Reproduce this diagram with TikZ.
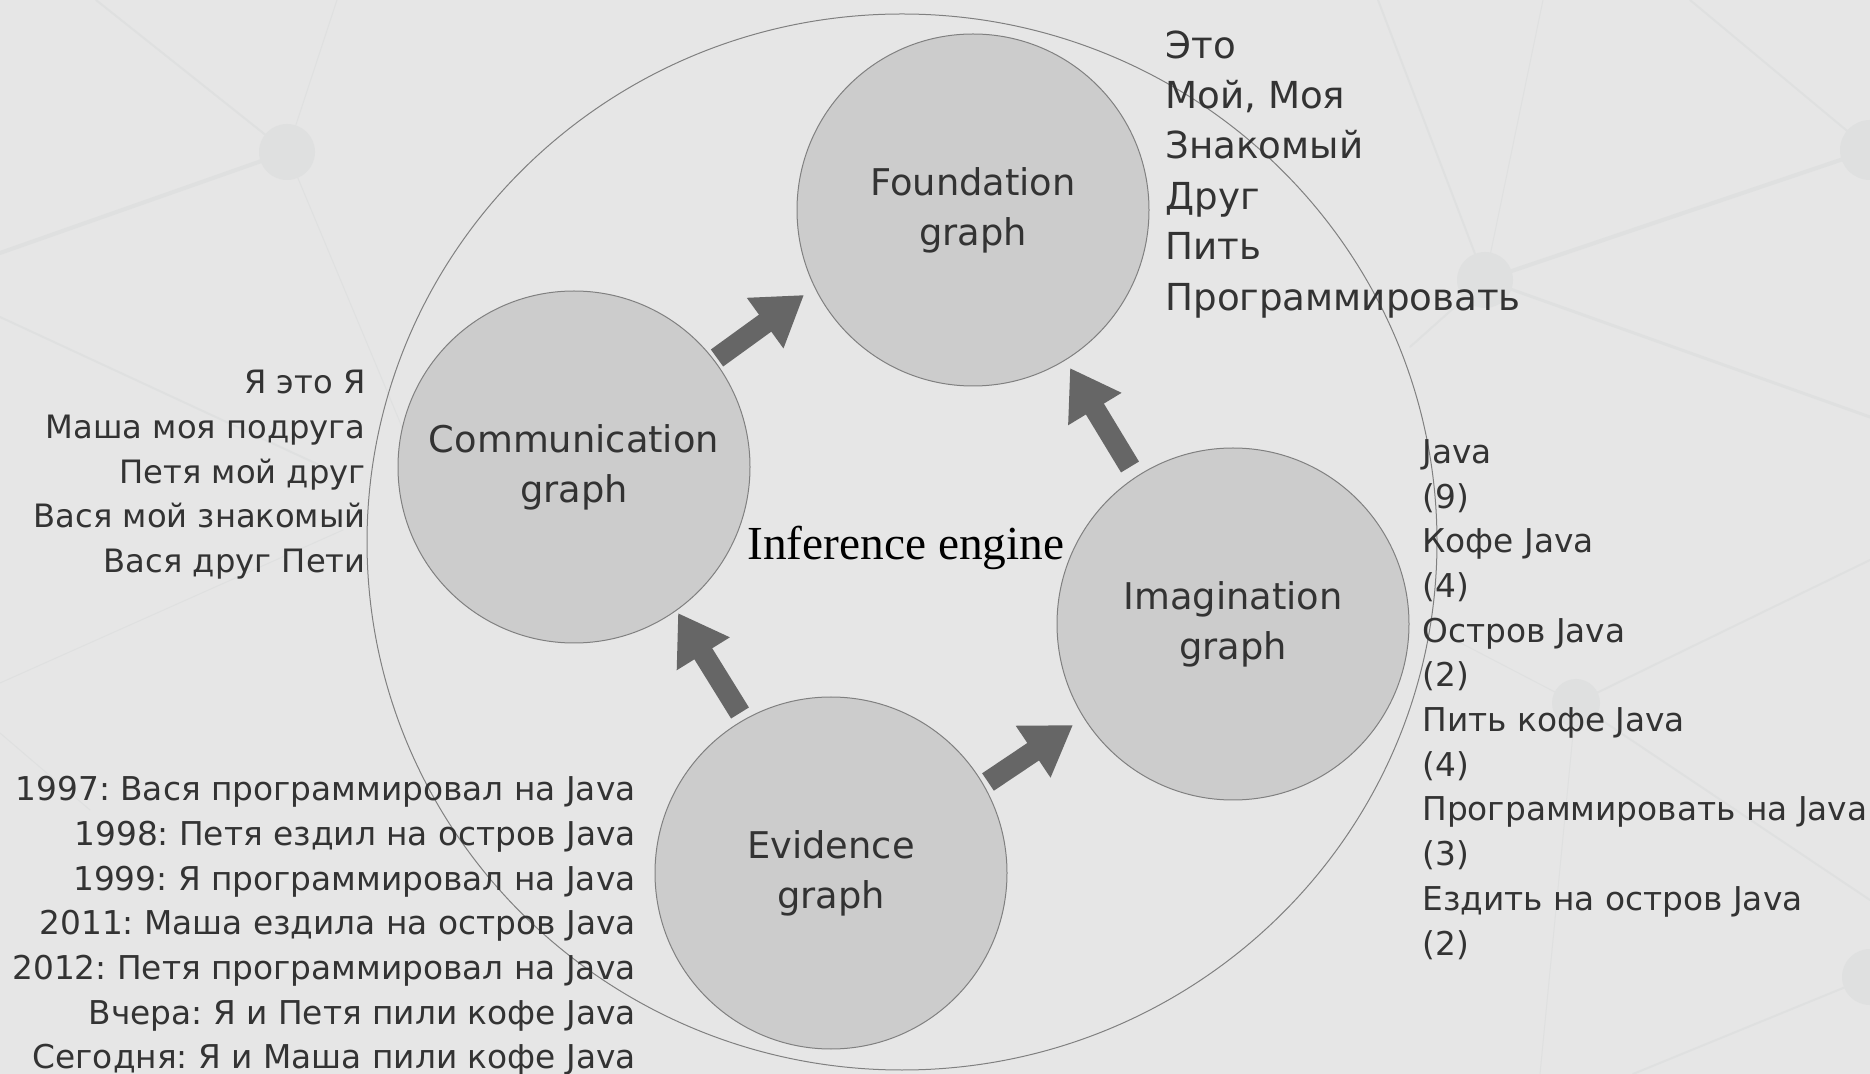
\documentclass[tikz,border=0pt]{standalone}
\usepackage{fontspec}
\setmainfont{DejaVu Sans}
\newfontfamily\enginefont{Liberation Serif}
\usetikzlibrary{arrows.meta,positioning}
\frenchspacing

\definecolor{bggray}{RGB}{230,230,230}
\definecolor{netgray}{RGB}{223,224,224}
\definecolor{discgray}{RGB}{204,204,204}
\definecolor{rimgray}{RGB}{128,128,128}
\definecolor{arrowgray}{RGB}{102,102,102}
\definecolor{inkgray}{RGB}{51,51,51}

\begin{document}
\begin{tikzpicture}[x=0.5pt,y=-0.5pt,
  graphdisc/.style={circle,draw=rimgray,line width=0.5pt,fill=discgray,
    minimum size=176pt,inner sep=0pt,align=center,text=inkgray,
    font=\fontsize{18.4}{25}\selectfont},
  facts/.style={inner sep=0pt,text=inkgray,font=\fontsize{16.4}{22.35}\selectfont},
  flow/.style={draw=arrowgray,line width=10.5pt,-{Triangle[width=29.5pt,length=24pt]}},
  net/.style={draw=netgray,line cap=round},
  hub/.style={fill=netgray}]
  % background with the faint network
  \fill[bggray] (0,0) rectangle (1870,1074);
  \useasboundingbox (0,0) rectangle (1870,1074);
  \draw[net,line width=2pt] (287,152) -- (0,253);
  \draw[net,line width=1pt] (287,152) -- (96,0);
  \draw[net,line width=0.5pt] (287,152) -- (337,0);
  \draw[net,line width=0.5pt] (287,152) -- (420,470);
  \draw[net,line width=1pt] (0,317) -- (330,470);
  \draw[net,line width=0.5pt] (0,683) -- (343,530);
  \draw[net,line width=0.5pt] (0,733) -- (90,810);
  \fill[hub] (287,152) circle[radius=28];
  \draw[net,line width=1pt] (1485,280) -- (1378,0);
  \draw[net,line width=0.5pt] (1485,280) -- (1543,0);
  \draw[net,line width=2pt] (1485,280) -- (1870,150);
  \draw[net,line width=1.5pt] (1485,280) -- (1870,417);
  \draw[net,line width=1pt] (1485,280) -- (1410,347);
  \draw[net,line width=1pt] (1870,150) -- (1690,0);
  \fill[hub] (1485,280) circle[radius=28];
  \fill[hub] (1870,150) circle[radius=30];
  \draw[net,line width=1pt] (1576,703) -- (1870,560);
  \draw[net,line width=0.5pt] (1576,703) -- (1455,640);
  \draw[net,line width=1pt] (1576,703) -- (1870,900);
  \draw[net,line width=0.5pt] (1576,703) -- (1540,1074);
  \draw[net,line width=1pt] (1870,977) -- (1633,1074);
  \fill[hub] (1576,703) circle[radius=24];
  \fill[hub] (1870,977) circle[radius=28];

  % inference engine
  \draw[rimgray,line width=0.5pt] (902,542) ellipse[x radius=535,y radius=528];
  \node[anchor=base,inner sep=0pt,font=\enginefont\fontsize{23.7}{28}\selectfont]
    (engine) at (906,560) {Inference engine};

  % the four graphs
  \node[graphdisc] (foundation) at (973,210) {Foundation\\graph};
  \node[graphdisc] (communication) at (574,467) {Communication\\graph};
  \node[graphdisc] (imagination) at (1233,624) {Imagination\\graph};
  \node[graphdisc] (evidence) at (831,873) {Evidence\\graph};

  % arrows between the graphs
  \coordinate (c2f-tail) at (717,358);  \coordinate (c2f-tip) at (804,295);
  \coordinate (i2f-tail) at (1130,467); \coordinate (i2f-tip) at (1070,368);
  \coordinate (e2c-tail) at (740,713);  \coordinate (e2c-tip) at (678,613);
  \coordinate (e2i-tail) at (988,782);  \coordinate (e2i-tip) at (1073,725);
  \draw[flow] (c2f-tail) -- (c2f-tip);
  \draw[flow] (i2f-tail) -- (i2f-tip);
  \draw[flow] (e2c-tail) -- (e2c-tip);
  \draw[flow] (e2i-tail) -- (e2i-tip);

  % contents of each graph
  \node[facts,anchor=north west,align=left,font=\fontsize{18.6}{25.2}\selectfont]
    (foundation-list) at (1165,30)
    {Это\\Мой, Моя\\Знакомый\\Друг\\Пить\\Программировать};
  \node[facts,anchor=north east,align=right,font=\fontsize{16.1}{22.35}\selectfont]
    (communication-list) at (366,370)
    {Я это Я\\Маша моя подруга\\Петя мой друг\\Вася мой знакомый\\Вася друг Пети};
  \node[facts,anchor=north west,align=left] (imagination-list) at (1422,439)
    {Java\\(9)\\Кофе Java\\(4)\\Остров Java\\(2)\\Пить кофе Java\\(4)\\%
     Программировать на Java\\(3)\\Ездить на остров Java\\(2)};
  \node[facts,anchor=north east,align=right] (evidence-list) at (636,776)
    {1997: Вася программировал на Java\\1998: Петя ездил на остров Java\\%
     1999: Я программировал на Java\\2011: Маша ездила на остров Java\\%
     2012: Петя программировал на Java\\Вчера: Я и Петя пили кофе Java\\%
     Сегодня: Я и Маша пили кофе Java};
\end{tikzpicture}
\end{document}
